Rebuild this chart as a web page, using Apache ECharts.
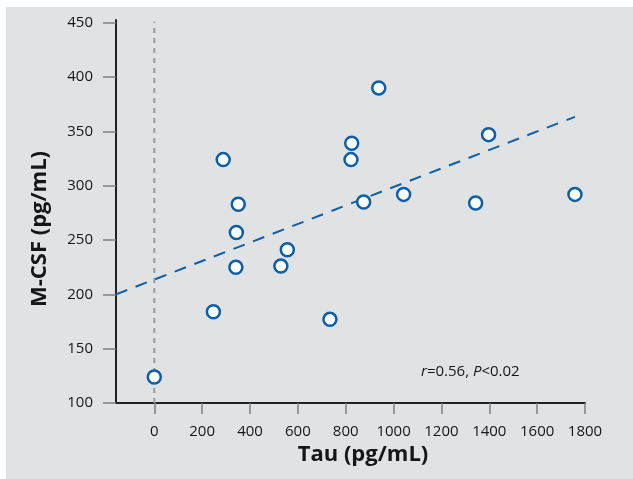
<!DOCTYPE html>
<html>
<head>
<meta charset="utf-8">
<script src="https://cdn.jsdelivr.net/npm/echarts@6/dist/echarts.min.js"></script>
<style>
html,body{margin:0;padding:0;background:#fff;}
#chart{width:633px;height:479px;}
</style>
</head>
<body>
<div id="chart"></div>
<script>
// Data
var tau = [0, 247, 288, 341, 343, 351, 529, 556, 734, 825, 822, 875, 938, 1042, 1343, 1397, 1758];
var mcsf = [124, 184, 324, 225, 257, 283, 226, 241, 177, 339, 324, 285, 390, 292, 284, 347, 292];
var fitX = [-160, 1758];
var fitY = [200, 363.4];
var zeroX = [0, 0];
var zeroY = [100, 451];
var xTicks = [0, 200, 400, 600, 800, 1000, 1200, 1400, 1600, 1800];
var yTicks = [100, 150, 200, 250, 300, 350, 400, 450];

var points = tau.map(function (t, i) { return [t, mcsf[i]]; });
var fit = fitX.map(function (x, i) { return [x, fitY[i]]; });
var zero = zeroX.map(function (x, i) { return [x, zeroY[i]]; });

var font = '"Open Sans", "Noto Sans", sans-serif';
var ink = '#161616';
var chart = echarts.init(document.getElementById('chart'), null, {renderer: 'canvas'});
chart.setOption({
  animation: false,
  textStyle: {fontFamily: font},
  graphic: [
    {type: 'rect', left: 6, top: 7, shape: {width: 627, height: 472}, style: {fill: '#e1e2e4'}, z: -10, silent: true},
    {type: 'text', x: 40, y: 229, rotation: Math.PI / 2,
      style: {text: 'M-CSF (pg/mL)', font: 'bold 22px ' + font, fill: ink, textAlign: 'center', textVerticalAlign: 'middle'}},
    {type: 'text', x: 363, y: 455,
      style: {text: 'Tau (pg/mL)', font: 'bold 22px ' + font, fill: ink, textAlign: 'center', textVerticalAlign: 'middle'}},
    {type: 'text', x: 421, y: 372,
      style: {
        text: '{i|r}{n|=0.56, }{i|P}{n|<0.02}',
        textVerticalAlign: 'middle',
        rich: {
          i: {fontStyle: 'italic', fontSize: 15, fontFamily: font, fill: ink, color: ink},
          n: {fontSize: 15, fontFamily: font, fill: ink, color: ink}
        }
      }}
  ],
  grid: {left: 116, top: 20, width: 469, height: 383, containLabel: false},
  xAxis: {
    type: 'value', min: -160, max: 1800,
    axisLine: {show: true, onZero: false, lineStyle: {color: '#231f20', width: 2}},
    axisTick: {show: true, customValues: xTicks, length: 11, lineStyle: {color: '#808080', width: 1.5}},
    axisLabel: {customValues: xTicks, color: ink, fontSize: 15, margin: 21, fontFamily: font,
      formatter: function (v) { return String(v); }},
    splitLine: {show: false}
  },
  yAxis: {
    type: 'value', min: 100, max: 452.5,
    axisLine: {show: true, onZero: false, lineStyle: {color: '#231f20', width: 2}},
    axisTick: {show: true, customValues: yTicks, length: 13, lineStyle: {color: '#808080', width: 1.5}},
    axisLabel: {customValues: yTicks, color: ink, fontSize: 15, margin: 23, fontFamily: font,
      formatter: function (v) { return String(v); }},
    splitLine: {show: false}
  },
  series: [
    {type: 'line', data: zero, symbol: 'none', silent: true, z: 1,
      lineStyle: {color: '#9a9a9a', width: 2, type: [5, 5]}},
    {type: 'line', data: fit, symbol: 'none', silent: true, z: 2,
      lineStyle: {color: '#0b5ea8', width: 2, type: [12, 9]}},
    {type: 'scatter', data: points, symbol: 'circle', symbolSize: 13, z: 3,
      itemStyle: {color: '#ffffff', borderColor: '#0b5ea8', borderWidth: 2.5, opacity: 1}}
  ]
});
</script>
</body>
</html>
